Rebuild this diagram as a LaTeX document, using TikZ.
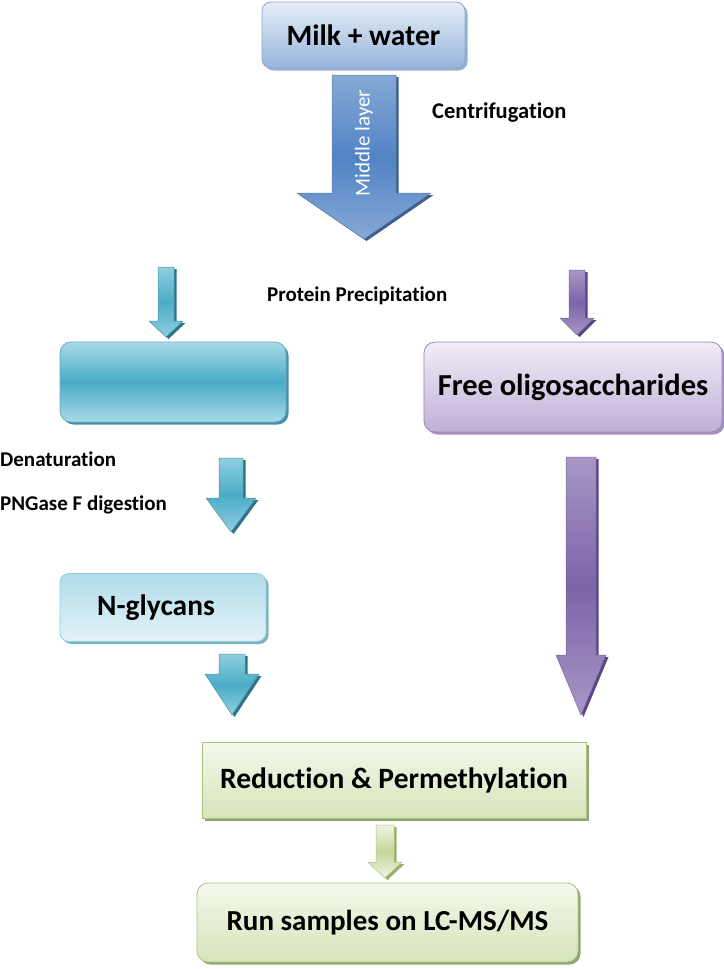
\documentclass[tikz,border=0pt]{standalone}
\usepackage{fontspec}
\setmainfont{Carlito}[Ligatures=NoCommon]
\usetikzlibrary{shadows}
\definecolor{milkT}{HTML}{E6EEF8}
\definecolor{milkB}{HTML}{97B5DB}
\definecolor{milkD}{HTML}{8AA8D0}
\definecolor{tealL}{HTML}{A8DAE8}
\definecolor{tealM}{HTML}{4AABC6}
\definecolor{tealD}{HTML}{31859C}
\definecolor{ngT}{HTML}{B0DCE9}
\definecolor{ngB}{HTML}{E4F3F8}
\definecolor{purT}{HTML}{F1EDF6}
\definecolor{purB}{HTML}{BFB0D6}
\definecolor{purD}{HTML}{9A86BC}
\definecolor{purA}{HTML}{A797C6}
\definecolor{purM}{HTML}{7D63A8}
\definecolor{purS}{HTML}{5B4485}
\definecolor{grnT}{HTML}{F4F8EC}
\definecolor{grnB}{HTML}{D6E4BA}
\definecolor{grnD}{HTML}{A9C47F}
\definecolor{bluA}{HTML}{86A9D6}
\definecolor{bluM}{HTML}{5283C4}
\definecolor{bluS}{HTML}{3A5F8F}
\definecolor{tArT}{HTML}{8FCFE0}
\definecolor{tArM}{HTML}{4BACC6}
\definecolor{tArS}{HTML}{2B7488}
\definecolor{gArT}{HTML}{EEF4E2}
\definecolor{gArB}{HTML}{C4D79B}
\definecolor{gArS}{HTML}{9BB067}
% \dnarrow{cx}{top}{headstart}{tip}{shaft half}{head half}{top col}{mid col}{shadow col}
\newcommand{\dnarrow}[9]{%
  \fill[#9] ([xshift=2.5pt,yshift=-2pt]#1-#5,#2) -- ([xshift=2.5pt,yshift=-2pt]#1+#5,#2) -- ([xshift=2.5pt,yshift=-2pt]#1+#5,#3) -- ([xshift=2.5pt,yshift=-2pt]#1+#6,#3) -- ([xshift=2.5pt,yshift=-2pt]#1,#4) -- ([xshift=2.5pt,yshift=-2pt]#1-#6,#3) -- ([xshift=2.5pt,yshift=-2pt]#1-#5,#3) -- cycle;
  \shade[top color=#7,bottom color=#7,middle color=#8,draw=#9!80,line width=0.5pt] (#1-#5,#2) -- (#1+#5,#2) -- (#1+#5,#3) -- (#1+#6,#3) -- (#1,#4) -- (#1-#6,#3) -- (#1-#5,#3) -- cycle;}
\begin{document}
\begin{tikzpicture}[x=1pt,y=-1pt,
  boxbase/.style={minimum width=#1, inner sep=0pt, line width=0.8pt, font=\fontsize{29.5}{34}\selectfont\bfseries},
  lbl/.style={font=\fontsize{21}{24}\selectfont\bfseries, inner sep=0pt},
  shad/.style={drop shadow={shadow xshift=2.5pt, shadow yshift=-2.5pt, fill=#1, opacity=0.9}}]
\useasboundingbox (0,0) rectangle (723,969);
\fill[white] (0,0) rectangle (723,969);

% arrows
\dnarrow{364}{75}{193}{239}{32}{67}{bluA}{bluM}{bluS}
\node[rotate=90, text=white, font=\fontsize{21}{24}\selectfont, inner sep=0pt] (mid) at (364,143) {Middle layer};
\dnarrow{166}{267}{321}{337}{8}{17}{tArT}{tArM}{tArS}
\dnarrow{577}{270}{318}{335}{8}{17}{purA}{purM}{purS}
\dnarrow{231}{458}{498}{532}{12}{25}{tArT}{tArM}{tArS}
\dnarrow{232}{654}{674}{715}{13}{27}{tArT}{tArM}{tArS}
\dnarrow{581}{457}{655}{715}{15}{25}{purA}{purM}{purS}
\dnarrow{385}{825}{862}{878}{9}{17}{gArT}{gArB}{gArS}

% boxes
\node[boxbase=203pt, minimum height=66pt, rounded corners=9pt, draw=milkD, top color=milkT, bottom color=milkB, shad=milkD] (milk) at (363.5,35) {Milk + water};
\node[boxbase=226pt, minimum height=80pt, rounded corners=11pt, draw=tealD!70, top color=tealL, bottom color=tealL, middle color=tealM, shad=tealD] (prot) at (173,382) {};
\node[boxbase=298pt, minimum height=90pt, rounded corners=11pt, draw=purD, top color=purT, bottom color=purB, shad=purD, font=\fontsize{30.5}{35}\selectfont\bfseries] (free) at (573,387) {Free oligosaccharides};
\node[boxbase=206pt, minimum height=68pt, rounded corners=9pt, draw=tealM!60, top color=ngT, bottom color=ngB, shad=tealD!70] (ngly) at (163,607.5) {N-glycans\hspace*{14pt}};
\node[boxbase=384pt, minimum height=76pt, draw=grnD, top color=grnT, bottom color=grnB, shad=grnD!80!black] (red) at (394,780) {Reduction \& Permethylation};
\node[boxbase=381pt, minimum height=79pt, rounded corners=11pt, draw=grnD, top color=grnT, bottom color=grnB, shad=grnD!80!black, font=\fontsize{29}{34}\selectfont\bfseries] (run) at (387.5,922.5) {Run samples on LC-MS/MS};

% labels
\node[lbl, anchor=west, font=\fontsize{22.5}{26}\selectfont\bfseries] (cent) at (432,113) {Centrifugation};
\node[lbl, anchor=west] (prec) at (267,296) {Protein Precipitation};
\node[lbl, anchor=west] (den) at (0,459) {Denaturation};
\node[lbl, anchor=west] (png) at (0,505) {PNGase F digestion};
\end{tikzpicture}
\end{document}
